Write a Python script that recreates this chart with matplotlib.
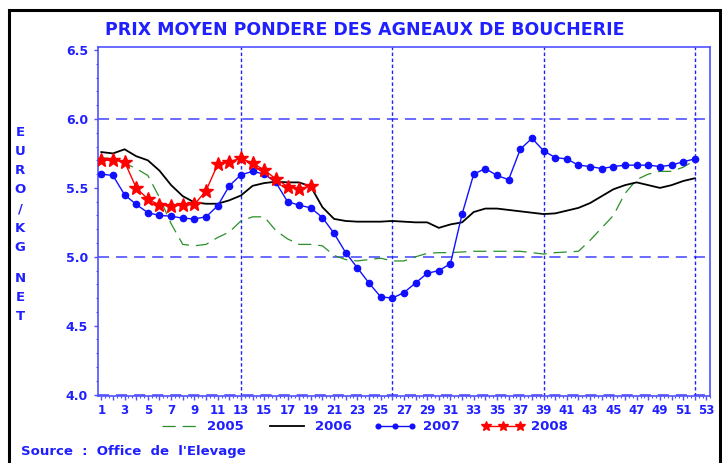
import matplotlib
matplotlib.use("Agg")
import matplotlib.pyplot as plt
from matplotlib.patches import Rectangle
from matplotlib.ticker import FixedLocator, MultipleLocator, FuncFormatter

plt.rcParams['font.family'] = ['DejaVu Sans']
plt.rcParams['lines.scale_dashes'] = False

# weekly average price, EUR/kg net
weeks = list(range(1, 53))
weeks_2008 = list(range(1, 20))

prix_2005 = [5.72, 5.71, 5.68, 5.64, 5.59, 5.43, 5.24, 5.09, 5.08, 5.09,
             5.14, 5.18, 5.26, 5.29, 5.29, 5.19, 5.13, 5.09, 5.09, 5.08,
             5.01, 4.98, 4.97, 4.98, 4.99, 4.97, 4.97, 5.00, 5.025, 5.03,
             5.03, 5.035, 5.04, 5.04, 5.04, 5.04, 5.04, 5.03, 5.02, 5.03,
             5.035, 5.04, 5.12, 5.21, 5.30, 5.46, 5.56, 5.60, 5.62, 5.62,
             5.65, 5.70]
prix_2006 = [5.76, 5.75, 5.78, 5.73, 5.70, 5.625, 5.52, 5.44, 5.395, 5.385,
             5.385, 5.41, 5.445, 5.515, 5.535, 5.545, 5.54, 5.54, 5.51, 5.36,
             5.275, 5.26, 5.255, 5.255, 5.255, 5.26, 5.255, 5.25, 5.25, 5.21,
             5.235, 5.25, 5.325, 5.35, 5.35, 5.34, 5.33, 5.32, 5.31, 5.315,
             5.335, 5.355, 5.39, 5.44, 5.49, 5.52, 5.54, 5.52, 5.50, 5.52,
             5.55, 5.57]
prix_2007 = [5.60, 5.59, 5.45, 5.38, 5.32, 5.30, 5.295, 5.28, 5.275, 5.29,
             5.37, 5.515, 5.595, 5.62, 5.60, 5.54, 5.40, 5.375, 5.355, 5.285,
             5.17, 5.03, 4.92, 4.81, 4.71, 4.70, 4.74, 4.81, 4.88, 4.90,
             4.95, 5.31, 5.60, 5.64, 5.59, 5.56, 5.78, 5.86, 5.77, 5.72,
             5.71, 5.665, 5.655, 5.64, 5.655, 5.665, 5.665, 5.665, 5.655, 5.665,
             5.69, 5.71]
prix_2008 = [5.70, 5.70, 5.69, 5.50, 5.42, 5.375, 5.37, 5.375, 5.38, 5.48,
             5.67, 5.69, 5.715, 5.68, 5.63, 5.565, 5.51, 5.49, 5.515]

y_ticks = [4.0, 4.5, 5.0, 5.5, 6.0, 6.5]
quarter_weeks = [13, 26, 39, 52]
ylabel_letters = ['E', 'U', 'R', 'O', '/', 'K', 'G', '', 'N', 'E', 'T']

BLUE = '#1f1fff'
AXIS_BLUE = '#5050ff'

fig = plt.figure(figsize=(7.22, 4.63), dpi=100)
ax = fig.add_axes([0.1353, 0.1447, 0.8487, 0.7531])

for y in [4.0, 5.0, 6.0]:
    ax.axhline(y, color=AXIS_BLUE, lw=1.2, dashes=(8, 5), zorder=1)
for w in quarter_weeks:
    ax.axvline(w, color='#2020ff', lw=1.0, dashes=(2.5, 1.8), zorder=1)

ax.plot(weeks, prix_2005, color='#2a8f2a', lw=0.9, dashes=(9.5, 5), label='2005', zorder=3)
ax.plot(weeks, prix_2006, color='black', lw=1.3, label='2006', zorder=3)
ax.plot(weeks, prix_2007, color='#1010ff', lw=1.0, marker='o', markersize=4.5,
        label='2007', zorder=4)
ax.plot(weeks_2008, prix_2008, color='#ff0000', lw=1.0, marker='*', markersize=10,
        label='2008', zorder=5)

ax.set_xlim(0.69, 53.34)
ax.set_ylim(3.99, 6.52)

ax.yaxis.set_major_locator(FixedLocator(y_ticks))
ax.yaxis.set_minor_locator(MultipleLocator(0.1))
ax.yaxis.set_major_formatter(FuncFormatter(lambda v, p: f'{v:.1f}'))
ax.xaxis.set_major_locator(FixedLocator(list(range(1, 54))))
ax.xaxis.set_minor_locator(MultipleLocator(1 / 3))
ax.xaxis.set_major_formatter(FuncFormatter(lambda v, p: str(int(v)) if int(v) % 2 == 1 else ''))

for sp in ax.spines.values():
    sp.set_color(AXIS_BLUE)
    sp.set_linewidth(1.2)
ax.tick_params(which='major', direction='out', length=3, width=1, color=AXIS_BLUE,
               labelcolor=BLUE, labelsize=8.5)
ax.tick_params(which='minor', direction='out', length=1.6, width=0.8, color=AXIS_BLUE)
ax.tick_params(axis='y', labelsize=9, pad=4)
ax.tick_params(axis='x', pad=3)
for lbl in ax.get_xticklabels() + ax.get_yticklabels():
    lbl.set_fontweight('bold')

leg = ax.legend(loc='center', bbox_to_anchor=(0.433, -0.088), ncol=4, frameon=False,
                numpoints=3, markerscale=0.75, handlelength=3.2, handletextpad=0.5,
                columnspacing=1.7, prop={'weight': 'bold', 'size': 9.5})
for t in leg.get_texts():
    t.set_color(BLUE)

fig.text(0.5055, 0.935, 'PRIX MOYEN PONDERE DES AGNEAUX DE BOUCHERIE', color=BLUE,
         fontsize=12.5, fontweight='bold', ha='center', va='center')

# vertical stacked y label
ypos = 132
for ch in ylabel_letters:
    if ch == '':
        ypos += 11
        continue
    fig.text(20 / 722, 1 - ypos / 463, ch, color=BLUE, fontsize=9.5, fontweight='bold',
             ha='center', va='center')
    ypos += 19.3

fig.text(0.0287, 0.0244, 'Source  :  Office  de  l\'Elevage', color=BLUE, fontsize=9.5,
         fontweight='bold', ha='left', va='center')

fig.patches.append(Rectangle((9 / 722, -0.02), 710.5 / 722, 453 / 463 + 0.02,
                             transform=fig.transFigure, fill=False,
                             edgecolor='black', lw=2.2))

fig.savefig('out.png', dpi=100)
